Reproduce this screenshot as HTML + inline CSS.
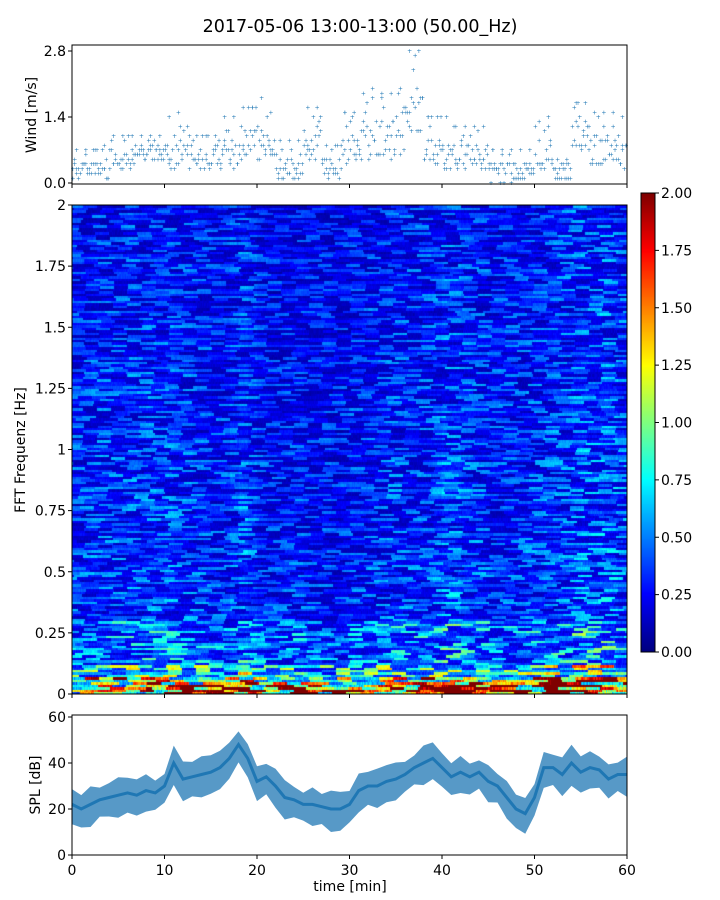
<!DOCTYPE html>
<html><head><meta charset="utf-8"><style>
body{margin:0;background:#fff;width:720px;height:900px;overflow:hidden;font-family:"Liberation Sans","DejaVu Sans",sans-serif}
svg text{font-family:"DejaVu Sans","Liberation Sans",sans-serif;fill:#000}
#spec{position:absolute;left:72px;top:205px}
#cbar{position:absolute;left:641px;top:193px}
</style></head><body>
<svg id="main" width="720" height="900" style="position:absolute;left:0;top:0"></svg>
<canvas id="spec" width="555" height="489"></canvas>
<canvas id="cbar" width="14" height="459"></canvas>
<svg width="720" height="900" style="position:absolute;left:0;top:0;pointer-events:none" id="over"></svg>
<script>
// ---- data ----
const windMinutes=[0,1,2,3,4,5,6,7,8,9,10,11,12,13,14,15,16,17,18,19,20,21,22,23,24,25,26,27,28,29,30,31,32,33,34,35,36,37,38,39,40,41,42,43,44,45,46,47,48,49,50,51,52,53,54,55,56,57,58,59];
const windMin=[0.1,0.1,0.2,0.1,0.3,0.3,0.3,0.5,0.5,0.5,0.3,0.3,0.3,0.3,0.3,0.3,0.3,0.3,0.5,0.5,0.5,0.5,0.1,0.1,0.1,0.5,0.5,0.1,0.1,0.3,0.3,0.5,0.5,0.5,0.5,0.5,1.0,1.0,0.3,0.3,0.3,0.3,0.3,0.3,0.3,0.0,0.0,0.0,0.0,0.0,0.3,0.3,0.1,0.1,0.7,0.7,0.3,0.3,0.3,0.3];
const windMax=[0.7,0.7,0.7,0.8,1.0,1.0,1.0,1.0,1.0,1.0,1.4,1.5,1.2,1.0,1.0,1.0,1.4,1.4,1.6,1.6,1.8,1.5,0.9,0.9,0.9,1.6,1.6,0.8,0.8,1.5,1.5,1.9,2.0,1.9,1.9,2.0,2.8,2.8,1.4,1.4,1.4,1.2,1.2,1.2,1.2,0.7,0.7,0.7,0.7,0.7,1.3,1.4,0.5,0.5,1.7,1.7,1.5,1.5,1.5,1.4];
const windTicks=[0.0,1.4,2.8];
const splMinutes=[0,1,2,3,4,5,6,7,8,9,10,11,12,13,14,15,16,17,18,19,20,21,22,23,24,25,26,27,28,29,30,31,32,33,34,35,36,37,38,39,40,41,42,43,44,45,46,47,48,49,50,51,52,53,54,55,56,57,58,59,60];
const splMean=[22,20,22,24,25,26,27,26,28,27,30,40,33,34,35,36,38,42,48,42,32,34,30,25,24,22,22,21,20,20,22,28,30,30,32,33,35,38,40,42,38,34,36,34,36,32,30,25,20,18,25,38,38,35,40,36,38,37,33,35,35];
const splTicks=[0,20,40,60];
const specLevel=[0.95,0.95,1.0,1.0,1.0,1.0,1.05,1.0,1.05,1.0,1.05,1.0,1.0,0.95,0.95,0.9,0.9,1.0,1.1,1.0,0.9,0.85,0.85,0.9,0.9,0.85,0.85,0.85,0.8,0.85,0.9,0.9,0.95,0.95,1.0,1.0,1.0,1.0,1.0,1.05,1.15,1.15,1.05,1.0,1.0,0.95,0.95,0.95,0.95,1.0,1.0,1.05,1.1,1.1,1.15,1.2,1.2,1.25,1.2,1.1];
const freqTicks=[0,0.25,0.5,0.75,1,1.25,1.5,1.75,2];
const freqTickLabels=["0","0.25","0.5","0.75","1","1.25","1.5","1.75","2"];
const cbarTicks=[0,0.25,0.5,0.75,1,1.25,1.5,1.75,2];
const timeTicks=[0,10,20,30,40,50,60];
// ---- axes ----
const X0=72,X1=627;
const xs=t=>X0+(X1-X0)*t/60;
const wy=v=>183-v*47.14;
const sy=v=>855-v*2.3;
const fy=f=>694-f*244.5;
const NS='http://www.w3.org/2000/svg';
const svg=document.getElementById('main'), over=document.getElementById('over');
function mk(p,tag,at){const e=document.createElementNS(NS,tag);for(const k in at)e.setAttribute(k,at[k]);p.appendChild(e);return e;}
function jet(v){v=Math.max(0,Math.min(1,v));const r=Math.min(1,Math.max(0,1.5-Math.abs(4*v-3))),g=Math.min(1,Math.max(0,1.5-Math.abs(4*v-2))),b=Math.min(1,Math.max(0,1.5-Math.abs(4*v-1)));return [r*255|0,g*255|0,b*255|0];}
function hash(a,b){let h=(a*374761393+b*668265263)|0;h=(h^(h>>>13))*1274126177|0;return ((h^(h>>>16))>>>0)/4294967296;}
// title
let t=mk(svg,'text',{x:360,y:32,'text-anchor':'middle','font-size':17.5});t.textContent='2017-05-06 13:00-13:00 (50.00_Hz)';

// wind panel
let g=mk(svg,'g',{});
windMinutes.forEach((m,i)=>{for(let s=0;s<5;s++){const tt=m+s/5+0.1;const lvl=Math.round((windMin[i]+(windMax[i]-windMin[i])*Math.pow(hash(i,s),1.5))*10)/10;
 for(const v of [lvl,Math.round((windMin[i]+(windMax[i]-windMin[i])*hash(s,i+7)*0.6)*10)/10]){const c=mk(g,'text',{x:xs(tt),y:wy(v)+2,'font-size':6,'text-anchor':'middle'});c.textContent='+';c.setAttribute('style','fill:#1f77b4');}}
 const c=mk(g,'text',{x:xs(m+0.5),y:wy(windMax[i])+2,'font-size':6,'text-anchor':'middle'});c.textContent='+';c.setAttribute('style','fill:#1f77b4');});
let r=mk(svg,'rect',{x:X0,y:45,width:X1-X0,height:139,fill:'none',stroke:'#000','stroke-width':1});
windTicks.forEach(v=>{mk(svg,'line',{x1:X0-4,x2:X0,y1:wy(v),y2:wy(v),stroke:'#000'});const l=mk(svg,'text',{x:X0-6,y:wy(v)+5,'text-anchor':'end','font-size':14});l.textContent=v.toFixed(1);});
timeTicks.forEach(v=>mk(svg,'line',{x1:xs(v),x2:xs(v),y1:184,y2:188,stroke:'#000'}));
t=mk(svg,'text',{transform:'translate(36,115) rotate(-90)','text-anchor':'middle','font-size':14});t.textContent='Wind [m/s]';
// spectrogram
const cv=document.getElementById('spec').getContext('2d');
const W=555,H=489,rows=200,cols=555;
function base(f){if(f<0.04)return 1.9;if(f<0.07)return 1.3;if(f<0.12)return 0.75;if(f<0.3)return 0.5;return 0.36-0.04*(f-0.3);}
for(let rI=0;rI<rows;rI++){const f=(rI+0.5)/rows*2;for(let c=0;c<cols;c++){const tm=c/cols*60;const lv=specLevel[Math.min(59,Math.floor(tm))];
 const seg=Math.floor((c+hash(rI,99)*20)/14);
 const tx=0.25+1.5*Math.pow(hash(rI,seg+rI*5),1.6)+0.2*hash(rI*7,c);let v=base(f)*lv*tx;if(f<0.04&&tm<8)v*=0.6;
 const [R,G,B]=jet(v/2);cv.fillStyle=`rgb(${R},${G},${B})`;const x0=Math.floor(c*W/cols),x1=Math.floor((c+1)*W/cols);const y1=H-Math.floor(rI*H/rows),y0=H-Math.floor((rI+1)*H/rows);cv.fillRect(x0,y0,x1-x0,y1-y0);}}
r=mk(over,'rect',{x:X0,y:205,width:X1-X0,height:489,fill:'none',stroke:'#000'});
freqTicks.forEach((v,i)=>{mk(over,'line',{x1:X0-4,x2:X0,y1:fy(v),y2:fy(v),stroke:'#000'});const l=mk(over,'text',{x:X0-6,y:fy(v)+5,'text-anchor':'end','font-size':14});l.textContent=freqTickLabels[i];});
timeTicks.forEach(v=>mk(over,'line',{x1:xs(v),x2:xs(v),y1:694,y2:698,stroke:'#000'}));
t=mk(over,'text',{transform:'translate(25,450) rotate(-90)','text-anchor':'middle','font-size':14});t.textContent='FFT Frequenz [Hz]';
// colorbar
const cb=document.getElementById('cbar').getContext('2d');
for(let y=0;y<459;y++){const [R,G,B]=jet(1-y/458);cb.fillStyle=`rgb(${R},${G},${B})`;cb.fillRect(0,y,14,1);}
mk(over,'rect',{x:641,y:193,width:14,height:459,fill:'none',stroke:'#000'});
cbarTicks.forEach(v=>{const y=652-v/2*459;mk(over,'line',{x1:655,x2:659,y1:y,y2:y,stroke:'#000'});const l=mk(over,'text',{x:661,y:y+5,'font-size':14});l.textContent=v.toFixed(2);});
// SPL
g=mk(svg,'g',{});
let up='',dn='',ln='';
splMinutes.forEach((m,i)=>{const w=5+3*hash(i,3);up+=(i?'L':'M')+xs(m)+','+sy(splMean[i]+w);dn='L'+xs(m)+','+sy(splMean[i]-w-2)+dn;ln+=(i?'L':'M')+xs(m)+','+sy(splMean[i]);});
mk(g,'path',{d:up+dn+'Z',fill:'#1f77b4','fill-opacity':0.75});
mk(g,'path',{d:ln,fill:'none',stroke:'#1f77b4','stroke-width':3});
r=mk(svg,'rect',{x:X0,y:715,width:X1-X0,height:140,fill:'none',stroke:'#000'});
splTicks.forEach(v=>{mk(svg,'line',{x1:X0-4,x2:X0,y1:sy(v),y2:sy(v),stroke:'#000'});const l=mk(svg,'text',{x:X0-6,y:sy(v)+5,'text-anchor':'end','font-size':14});l.textContent=v;});
timeTicks.forEach(v=>{mk(svg,'line',{x1:xs(v),x2:xs(v),y1:855,y2:859,stroke:'#000'});const l=mk(svg,'text',{x:xs(v),y:875,'text-anchor':'middle','font-size':14});l.textContent=v;});
t=mk(svg,'text',{transform:'translate(40,785) rotate(-90)','text-anchor':'middle','font-size':14});t.textContent='SPL [dB]';
t=mk(svg,'text',{x:350,y:891,'text-anchor':'middle','font-size':14});t.textContent='time [min]';
</script></body></html>
